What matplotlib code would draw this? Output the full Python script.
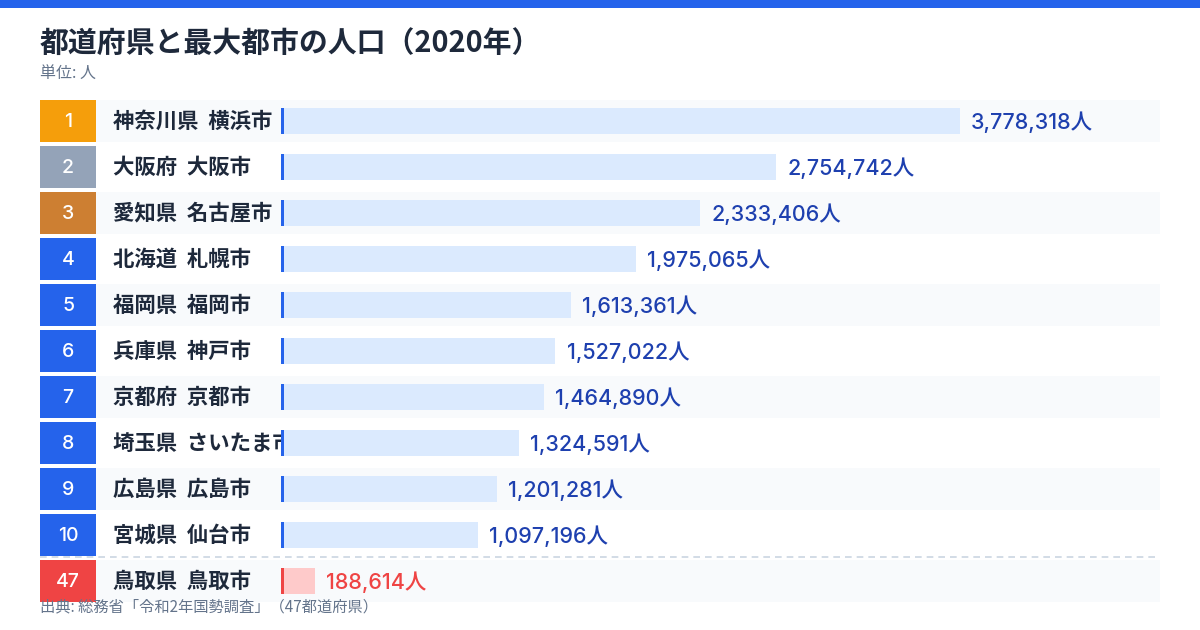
import matplotlib
matplotlib.use("Agg")
import matplotlib.pyplot as plt
from matplotlib.patches import Rectangle
from matplotlib.transforms import Bbox, TransformedBbox

plt.rcParams['font.family'] = ['Noto Sans CJK JP', 'DejaVu Sans']
NUMFONT = ['Inter', 'Noto Sans CJK JP', 'DejaVu Sans']

# ---- data ----
ranks = [1, 2, 3, 4, 5, 6, 7, 8, 9, 10, 47]
prefectures = ["神奈川県", "大阪府", "愛知県", "北海道", "福岡県", "兵庫県",
               "京都府", "埼玉県", "広島県", "宮城県", "鳥取県"]
cities = ["横浜市", "大阪市", "名古屋市", "札幌市", "福岡市", "神戸市",
          "京都市", "さいたま市", "広島市", "仙台市", "鳥取市"]
populations = [3778318, 2754742, 2333406, 1975065, 1613361, 1527022,
               1464890, 1324591, 1201281, 1097196, 188614]

title = "都道府県と最大都市の人口（2020年）"
subtitle = "単位: 人"
source = "出典: 総務省「令和2年国勢調査」（47都道府県）"

# ---- style ----
W, H = 1200, 630
BLUE = "#2563eb"
rank_colors = {1: "#f59e0b", 2: "#94a3b8", 3: "#cd7f32"}
RED = "#ef4444"

fig = plt.figure(figsize=(12, 6.3), dpi=100)
ax = fig.add_axes([0, 0, 1, 1])
ax.set_xlim(0, W)
ax.set_ylim(H, 0)
ax.axis("off")

# top accent strip
ax.add_patch(Rectangle((0, 0), W, 8, color=BLUE, lw=0))

ax.text(40, 43, title, fontsize=20.8, fontweight="bold", color="#1e293b",
        va="center", ha="left")
ax.text(40, 73, subtitle, fontsize=11.5, color="#64748b", va="center", ha="left")

row_h = 42
pitch = 46
bar_left_px = 281
bar_max_px = 960
row_right = 1160

# data axes for bars: x in population units, y in pixel rows
bar_ax = fig.add_axes([bar_left_px / W, 0, (row_right - bar_left_px) / W, 1])
xmax = max(populations) * (row_right - bar_left_px) / (bar_max_px - bar_left_px)
bar_ax.set_xlim(0, xmax)
bar_ax.set_ylim(H, 0)
bar_ax.axis("off")
bar_ax.patch.set_alpha(0)

centers = [100 + pitch * i + row_h / 2 for i in range(len(ranks))]

clip = TransformedBbox(Bbox([[40, 0], [bar_left_px, H]]), ax.transData)

for i, (r, pref, city, pop) in enumerate(zip(ranks, prefectures, cities, populations)):
    top = centers[i] - row_h / 2
    cy = centers[i]
    if i % 2 == 0:
        ax.add_patch(Rectangle((96, top), row_right - 96, row_h, color="#f8fafc", lw=0, zorder=0))
    bc = rank_colors.get(r, RED if r == 47 else BLUE)
    ax.add_patch(Rectangle((40, top), 56, row_h, color=bc, lw=0, zorder=1))
    ax.text(68, cy + 1, str(r), color="white", fontsize=14, family=NUMFONT,
            fontweight="medium", ha="center", va="center", zorder=2)
    t = ax.text(113, cy, f"{pref}  {city}", color="#1e293b", fontsize=15.4,
                fontweight="bold", ha="left", va="center", zorder=2)
    t.set_clip_box(clip)
    t.set_clip_on(True)

    is_low = r == 47
    fill = "#fecaca" if is_low else "#dbeafe"
    accent = RED if is_low else BLUE
    vcol = RED if is_low else "#1e40af"
    bar_ax.barh(cy, pop, height=26, left=0, color=fill, lw=0, zorder=1)
    bar_ax.add_patch(Rectangle((bar_left_px, cy - 13), 3, 26, color=accent, lw=0,
                               zorder=3, transform=ax.transData))
    bar_ax.annotate(f"{pop:,}人", xy=(pop, cy + 1), xytext=(8, 0), textcoords="offset points",
                    color=vcol, fontsize=15.5, family=NUMFONT, fontweight="medium",
                    ha="left", va="center")

# dashed separator
ax.plot([40, row_right], [557, 557], color="#cbd5e1", lw=1.2, ls=(0, (4, 3)), zorder=2)

ax.text(40, 607, source, fontsize=11, color="#64748b", ha="left", va="center", zorder=4)

fig.savefig("out.png", dpi=100, facecolor="white")
